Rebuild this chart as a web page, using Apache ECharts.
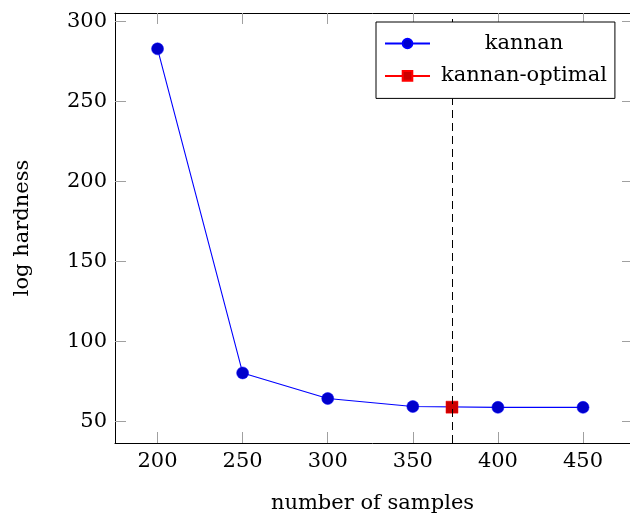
<!DOCTYPE html>
<html>
<head>
<meta charset="utf-8">
<script src="https://cdn.jsdelivr.net/npm/echarts@6/dist/echarts.min.js"></script>
<style>
  html, body { margin: 0; padding: 0; background: #fff; }
  #chart { width: 630px; height: 519px; }
</style>
</head>
<body>
<div id="chart"></div>
<script>
// Samples vs. log hardness
const sampleCounts = [200, 250, 300, 350, 400, 450];
const kannanHardness = [283, 80.4, 64.4, 59.4, 58.9, 58.9];
const optimalSamples = [373];
const optimalHardness = [59.0];
const xTicks = [200, 250, 300, 350, 400, 450];
const yTicks = [50, 100, 150, 200, 250, 300];

const FONT = 'DejaVu Serif';
const FS = 21;

const chart = echarts.init(document.getElementById('chart'), null, { renderer: 'canvas' });

const frameLine = { show: true, onZero: false, lineStyle: { color: '#000', width: 1 } };
const tickStyle = { show: true, inside: true, length: 11, lineStyle: { color: '#a0a0a0', width: 1 } };

// the plot area runs to the right edge; its right frame sits just beyond it
const xMin = 175, xMax = 477.6;
const yMin = 36.6, yMax = 305.4;

chart.setOption({
  animation: false,
  backgroundColor: '#fff',
  grid: { left: 115, right: 0, top: 13, bottom: 75, containLabel: false },
  legend: {
    orient: 'vertical',
    left: 376,
    top: 22,
    padding: [11, 8, 12, 8],
    itemGap: 11.4,
    itemWidth: 45,
    itemHeight: 12,
    backgroundColor: '#fff',
    borderColor: '#000',
    borderWidth: 1,
    borderRadius: 0,
    z: 20,
    data: ['kannan', 'kannan-optimal'],
    formatter: name => '{t|' + name + '}',
    textStyle: {
      rich: {
        t: { width: 178, align: 'center', fontFamily: FONT, fontSize: FS, color: '#000' }
      }
    }
  },
  xAxis: [
    {
      type: 'value', position: 'bottom', min: xMin, max: xMax,
      name: 'number of samples', nameLocation: 'middle', nameGap: 50,
      nameTextStyle: { fontFamily: FONT, fontSize: FS, color: '#000' },
      axisLine: frameLine,
      axisTick: Object.assign({ customValues: xTicks }, tickStyle),
      axisLabel: { customValues: xTicks, margin: 8, fontFamily: FONT, fontSize: FS, color: '#000' },
      splitLine: { show: false }
    },
    {
      type: 'value', position: 'top', min: xMin, max: xMax,
      axisLine: frameLine,
      axisTick: Object.assign({ customValues: xTicks }, tickStyle),
      axisLabel: { show: false },
      splitLine: { show: false }
    }
  ],
  yAxis: [
    {
      type: 'value', position: 'left', min: yMin, max: yMax,
      name: 'log hardness', nameLocation: 'middle', nameGap: 82, nameRotate: 90,
      nameTextStyle: { fontFamily: FONT, fontSize: FS, color: '#000' },
      axisLine: frameLine,
      axisTick: Object.assign({ customValues: yTicks }, tickStyle),
      axisLabel: { customValues: yTicks, margin: 8, fontFamily: FONT, fontSize: FS, color: '#000' },
      splitLine: { show: false }
    },
    {
      // right side: only the inward ticks fall inside the canvas
      type: 'value', position: 'right', offset: 3, min: yMin, max: yMax,
      axisLine: { show: false },
      axisTick: Object.assign({ customValues: yTicks }, tickStyle),
      axisLabel: { show: false },
      splitLine: { show: false }
    }
  ],
  series: [
    {
      name: 'kannan',
      type: 'line',
      xAxisIndex: 0, yAxisIndex: 0,
      data: sampleCounts.map((x, i) => [x, kannanHardness[i]]),
      symbol: 'circle',
      symbolSize: 12,
      showAllSymbol: true,
      lineStyle: { color: '#0000ff', width: 1.1 },
      itemStyle: { color: '#0000cc', borderColor: '#0000ff', borderWidth: 0.5 },
      z: 3
    },
    {
      name: 'kannan-optimal',
      type: 'line',
      xAxisIndex: 0, yAxisIndex: 0,
      data: optimalSamples.map((x, i) => [x, optimalHardness[i]]),
      symbol: 'rect',
      symbolSize: 12,
      lineStyle: { color: '#ff0000', width: 1.1 },
      itemStyle: { color: '#cc0000', borderColor: '#ff0000', borderWidth: 0.5 },
      z: 4,
      markLine: {
        silent: true,
        symbol: 'none',
        label: { show: false },
        lineStyle: { color: '#000', width: 1, type: [8, 5] },
        data: [{ xAxis: optimalSamples[0] }]
      }
    }
  ]
});
</script>
</body>
</html>
